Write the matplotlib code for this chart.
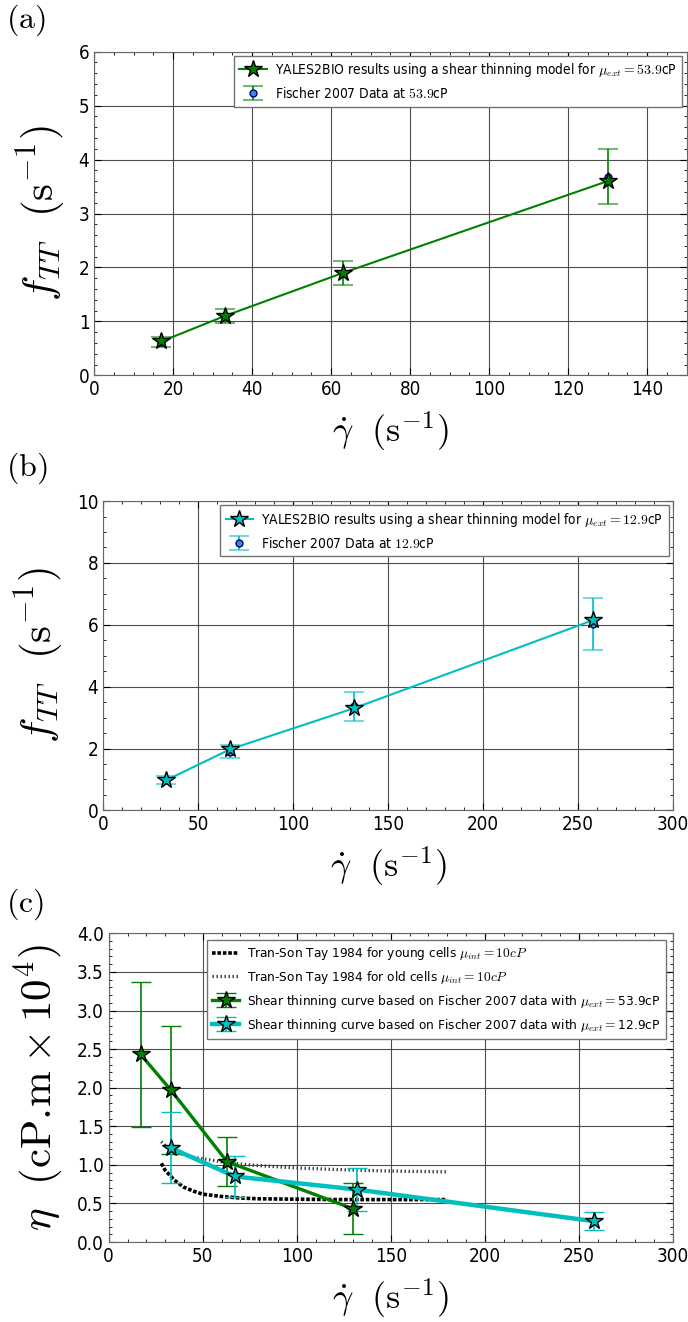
import matplotlib
matplotlib.use('Agg')
import matplotlib.pyplot as plt
from matplotlib.ticker import AutoMinorLocator

plt.rcParams['font.family'] = ['DejaVu Sans']
plt.rcParams['font.stretch'] = 'condensed'
plt.rcParams['mathtext.fontset'] = 'cm'
plt.rcParams['xtick.direction'] = 'in'
plt.rcParams['ytick.direction'] = 'in'

# panel (a): mu_ext = 53.9 cP
shear_a = [17, 33, 63, 130]
ftt_sim_a = [0.63, 1.10, 1.90, 3.60]
ftt_exp_a = [0.62, 1.11, 1.90, 3.68]
ftt_err_a = [0.09, 0.13, 0.22, 0.51]

# panel (b): mu_ext = 12.9 cP
shear_b = [33, 67, 132, 258]
ftt_sim_b = [0.97, 1.98, 3.30, 6.15]
ftt_exp_b = [0.98, 1.89, 3.36, 6.02]
ftt_err_b = [0.12, 0.21, 0.46, 0.85]

# panel (c): viscosity
eta_a = [2.43, 1.97, 1.04, 0.43]
eta_err_a = [0.94, 0.83, 0.32, 0.33]
eta_b = [1.22, 0.85, 0.68, 0.27]
eta_err_b = [0.46, 0.27, 0.28, 0.115]

tst_x = [28, 30, 35, 40, 45, 50, 60, 70, 80, 100, 120, 140, 160, 180]
tst_young = [1.02, 0.93, 0.80, 0.71, 0.66, 0.62, 0.59, 0.57, 0.56, 0.555, 0.55, 0.55, 0.55, 0.55]
tst_old = [1.30, 1.25, 1.18, 1.13, 1.10, 1.08, 1.04, 1.01, 0.99, 0.96, 0.94, 0.925, 0.915, 0.91]

fig = plt.figure(figsize=(6.88, 13.22), dpi=100)
ax1 = fig.add_axes([0.137, 0.716, 0.861, 0.245])
ax2 = fig.add_axes([0.150, 0.387, 0.828, 0.234])
ax3 = fig.add_axes([0.158, 0.0605, 0.820, 0.2335])

cyan = (0.0, 0.75, 0.75)
blue = '#2f8fe8'
xlab = r'$\dot{\gamma}\ \ (\mathrm{s}^{-1})$'


def style(ax):
    ax.grid(True, color='0.3', ls='-', lw=0.8)
    ax.set_axisbelow(True)
    ax.xaxis.set_minor_locator(AutoMinorLocator())
    ax.yaxis.set_minor_locator(AutoMinorLocator())
    ax.tick_params(which='both', top=True, right=True, labelsize=13.5)
    ax.tick_params(which='major', length=5)
    ax.tick_params(which='minor', length=2.5)
    for s in ax.spines.values():
        s.set_color('0.4')


def ftt_panel(ax, x, sim, exp, err, col, mu, xmax, ymax):
    eb = ax.errorbar(x, exp, yerr=err, fmt='o', color=col, mfc=blue, mec='navy',
                     ms=5, capsize=7, elinewidth=1.2, capthick=1.5, zorder=3)
    for c in eb[1]:
        c.set_alpha(0.55)
    ln, = ax.plot(x, sim, '-*', color=col, lw=1.5, ms=13, mfc=col, mec='k',
                  mew=1.0, zorder=4)
    ax.legend([ln, eb],
              ['YALES2BIO results using a shear thinning model for $\\mu_{ext}=%s$cP' % mu,
               'Fischer 2007 Data at $%s$cP' % mu],
              loc='upper right', numpoints=1, fontsize=9.9, borderaxespad=0.3,
              fancybox=False, edgecolor='0.45', framealpha=1, handlelength=2.0,
              handletextpad=0.6)
    ax.set_xlim(0, xmax)
    ax.set_ylim(0, ymax)
    ax.set_ylabel(r'$f_{TT}\ \ (\mathrm{s}^{-1})$', fontsize=31, labelpad=8)
    ax.set_xlabel(xlab, fontsize=26, labelpad=8)
    style(ax)


ftt_panel(ax1, shear_a, ftt_sim_a, ftt_exp_a, ftt_err_a, 'g', '53.9', 150, 6)
ftt_panel(ax2, shear_b, ftt_sim_b, ftt_exp_b, ftt_err_b, cyan, '12.9', 300, 10)

ax3.plot(tst_x, tst_young, color='k', ls=(0, (1.0, 0.5)), lw=2.6,
         label=r'Tran-Son Tay 1984 for young cells $\mu_{int}=10cP$')
ax3.plot(tst_x, tst_old, color='0.2', ls=(0, (0.4, 0.8)), lw=2.4,
         label=r'Tran-Son Tay 1984 for old cells $\mu_{int}=10cP$')
ax3.errorbar(shear_a, eta_a, yerr=eta_err_a, fmt='-*', color='g', lw=2.4, ms=13,
             mfc='g', mec='k', mew=1.0, capsize=7, elinewidth=1.2, capthick=1.5,
             label=r'Shear thinning curve based on Fischer 2007 data with $\mu_{ext}=$53.9cP')
ax3.errorbar(shear_b, eta_b, yerr=eta_err_b, fmt='-*', color=cyan, lw=3.2, ms=13,
             mfc=cyan, mec='k', mew=1.0, capsize=7, elinewidth=1.2, capthick=1.5,
             label=r'Shear thinning curve based on Fischer 2007 data with $\mu_{ext}=$12.9cP')
ax3.legend(loc='upper right', numpoints=1, fontsize=9.7, borderaxespad=0.5,
           fancybox=False, edgecolor='0.45', framealpha=1, handlelength=2.0,
           handletextpad=0.6, labelspacing=0.5)
ax3.set_xlim(0, 300)
ax3.set_ylim(0, 4)
ax3.set_ylabel(r'$\eta\ \ (\mathrm{cP}.\!\mathrm{m}\times10^4)$', fontsize=31, labelpad=8)
ax3.set_xlabel(xlab, fontsize=26, labelpad=8)
style(ax3)
ax3.yaxis.set_major_formatter(matplotlib.ticker.FormatStrFormatter('%.1f'))

fig.text(0.008, 0.985, r'$(\mathrm{a})$', fontsize=23, va='center')
fig.text(0.008, 0.646, r'$(\mathrm{b})$', fontsize=23, va='center')
fig.text(0.008, 0.316, r'$(\mathrm{c})$', fontsize=23, va='center')

fig.savefig('out.png', dpi=100)
